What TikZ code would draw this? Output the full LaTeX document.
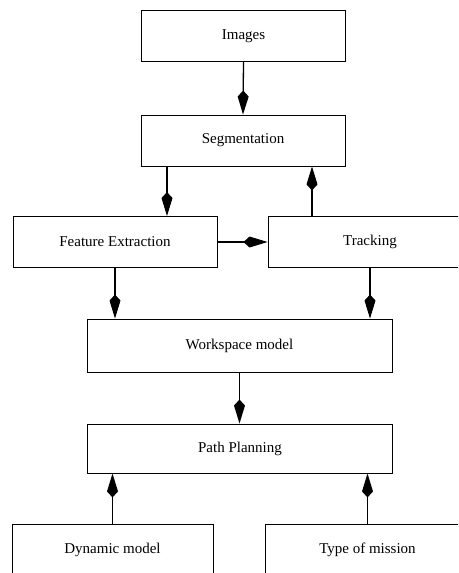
\documentclass[tikz,border=0pt]{standalone}
\usepackage{fontspec}
\setmainfont{Liberation Serif}
\usetikzlibrary{arrows.meta}

\begin{document}
\begin{tikzpicture}[
        box/.style={draw=black, line width=0.9pt, minimum width=204pt, minimum height=51pt,
            inner sep=0pt, font=\fontsize{15}{18}\selectfont},
        widebox/.style={box, minimum width=305pt},
        arr/.style={line width=1.3pt, -{Kite[length=24pt, width=11pt, inset=6pt]}}
    ]
        % Page frame
        \useasboundingbox (0,0) rectangle (458pt,-573pt);
        \clip (0,0) rectangle (458pt,-573pt);

        % Blocks
        \node[box] (img) at (243.5pt,-36pt) {Images};
        \node[box] (seg) at (243pt,-140.5pt) {Segmentation};
        \node[box] (fe) at (115pt,-242pt) {Feature Extraction};
        \node[box] (trk) at (370pt,-242pt) {Tracking};
        \node[widebox, minimum height=53pt] (ws) at (239.5pt,-345.5pt) {Workspace model};
        \node[widebox, minimum height=49pt] (pp) at (240pt,-448.5pt) {Path Planning};
        \node[box, minimum width=201pt] (dm) at (112.5pt,-550pt) {Dynamic model};
        \node[box] (tm) at (367.5pt,-550pt) {Type of mission};

        % Connectors
        \draw[arr] (img.south) -- (seg.north);
        \draw[arr] ([xshift=-76pt]seg.south) -- ([xshift=52pt]fe.north);
        \draw[arr] ([xshift=-58pt]trk.north) -- ([xshift=69pt]seg.south);
        \draw[arr] (fe.east) -- (trk.west);
        \draw[arr] (fe.south) -- (fe.south |- ws.north);
        \draw[arr] (trk.south) -- (trk.south |- ws.north);
        \draw[arr] (ws.south) -- (ws.south |- pp.north);
        \foreach \src in {dm, tm} {
            \draw[arr] (\src.north) -- (\src.north |- pp.south);
        }
    \end{tikzpicture}
\end{document}
